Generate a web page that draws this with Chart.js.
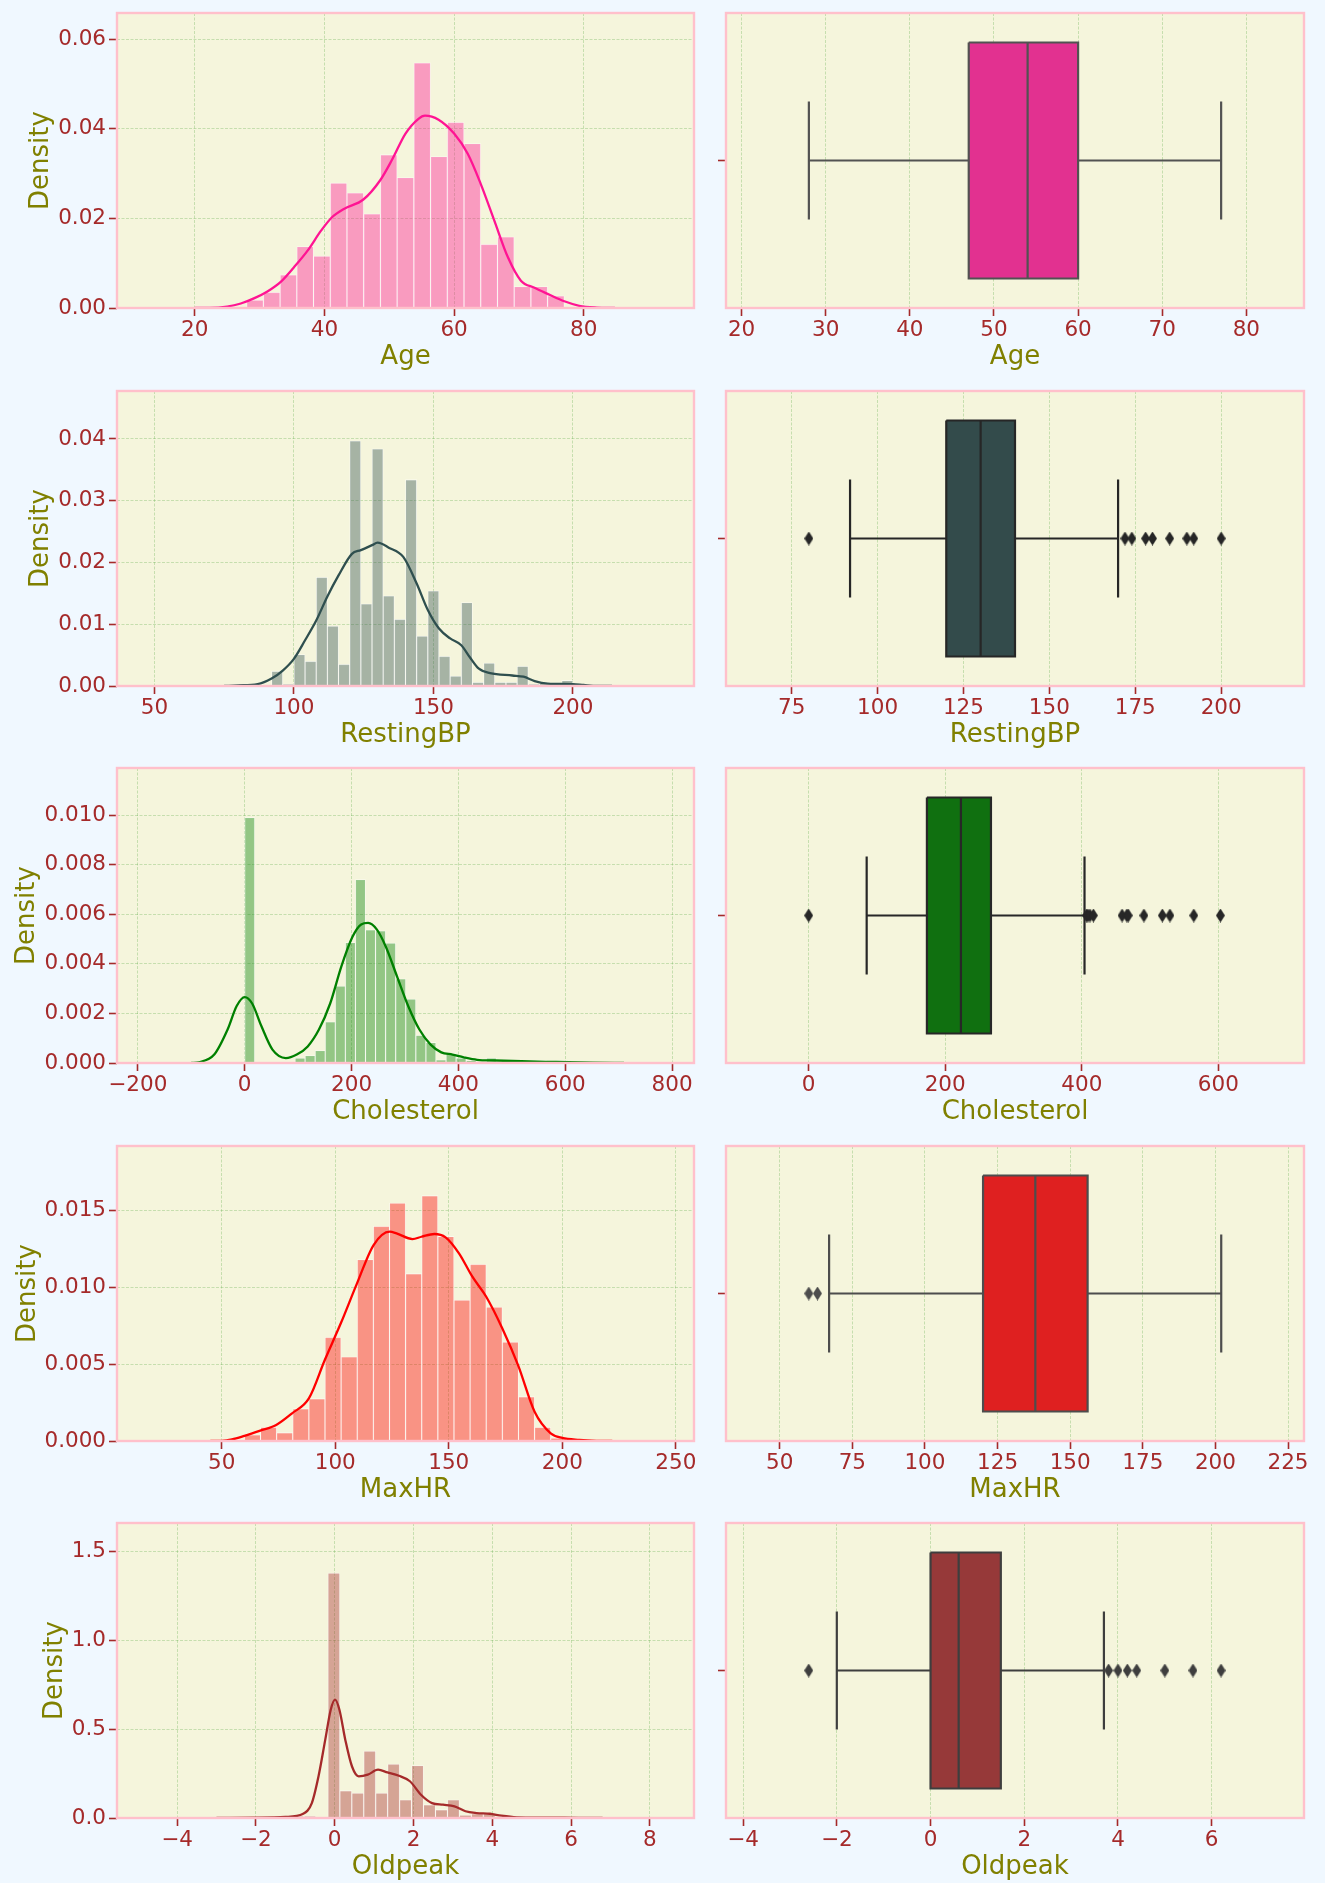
<!DOCTYPE html>
<html lang="en">
<head>
<meta charset="UTF-8">
<title>Heart data: distributions and box plots</title>
<script src="https://cdn.jsdelivr.net/npm/chart.js"></script>
<style>
    body{margin:0;padding:0;background:#F0F8FF;}
    #fig{position:relative;width:1325px;height:1883px;background:#F0F8FF;overflow:hidden;}
    .cell{position:absolute;}
    .cell canvas{display:block;}
</style>
</head>
<body>
<div id="fig"></div>
<script>
/* ==== data ==== */
// histograms: [first edge, last edge] + density of each equal-width bin
const ageBins = [28, 77];
const ageDensity = [0.0018,0.0035,0.0074,0.0137,0.0116,0.0279,0.0257,0.0210,0.0342,0.0291,
                    0.0547,0.0338,0.0414,0.0367,0.0142,0.0159,0.0048,0.0048,0.0027];
const ageKdeX = [20,22.3,25,27.1,29.2,31.2,33.3,35.3,37.4,39.5,41.2,43,46,48.6,50.4,52.5,54.5,55.5,
                 57.6,60,62.1,64.1,66.2,68.3,70.3,72.4,74.5,77,79.3,82,84.8];
const ageKdeY = [0,0,0.0003,0.001,0.0022,0.0037,0.0059,0.0091,0.0128,0.0173,0.0203,0.0221,0.0242,0.0285,
                 0.033,0.0389,0.0422,0.0429,0.042,0.0389,0.0344,0.0277,0.0195,0.0113,0.0061,0.0045,
                 0.0031,0.0015,0.0005,0.0001,0];

const bpBins = [80, 200];
const bpDensity = [0.0003,0,0,0.0024,0.0003,0.0051,0.004,0.0176,0.0097,0.0035,
                   0.0397,0.0133,0.0384,0.0146,0.0108,0.0334,0.0081,0.0154,0.0048,0.0016,
                   0.0135,0.0006,0.0037,0.0006,0.0006,0.0032,0.0003,0.0005,0,0.0009];
const bpKdeX = [75,80,87,92,96,100,104,108,112,116,120.8,124,128,130,134,139.2,144,148,152,156,160,
                163,166.3,170.3,178.3,182.3,186.3,191,200,203.8,208.6,214];
const bpKdeY = [0,0.0001,0.0003,0.0012,0.0025,0.0044,0.0074,0.0106,0.0145,0.0179,0.0214,0.022,0.0228,
                0.0232,0.0224,0.0209,0.0166,0.0123,0.0093,0.0077,0.0066,0.0047,0.0028,0.0021,0.0017,
                0.0015,0.0008,0.0004,0.0003,0.00016,0,0];

const cholBins = [0, 603];
const cholDensity = [0.0099,0,0,0,0,0.0002,0.0003,0.0005,0.00166,0.0031,
                     0.00486,0.0074,0.00537,0.00533,0.00484,0.0034,0.00258,0.00112,0.00083,0.00013,
                     0.00038,0.0002,0.0001,0,0.0002,0,0.0001,0.0001,0.0001,0.0001,0,0.0001];
const cholKdeX = [-100,-86,-57,-32,-15,0,14,31,52,77,97.5,118,139,160,181,202,218,231,247.5,264,285,
                  306,327,348,368,389,410,435,468,518,585,652,710];
const cholKdeY = [0,0.00003,0.00034,0.00135,0.0023,0.00266,0.0024,0.0015,0.00054,0.0002,0.00034,
                  0.00067,0.00135,0.0024,0.0039,0.0051,0.00559,0.00565,0.00538,0.0047,0.0035,0.0023,
                  0.00135,0.00074,0.00043,0.00034,0.00023,0.00013,0.0001,0.00007,0.00004,0.00001,0];

const hrBins = [60, 202];
const hrDensity = [0.0004,0.0009,0.00054,0.0021,0.00275,0.00674,0.00548,0.0118,0.01396,0.01547,
                   0.01088,0.01595,0.0133,0.00917,0.01149,0.00871,0.00644,0.00288,0.0009,0.0002];
const hrKdeX = [45,50,54.5,60,67,74,81,88.4,95.5,102.6,109.6,116.9,124,127,134,138,143.7,148.6,154.5,
                160.4,166.5,173.5,180.6,187.8,194.9,200,207.5,215,222];
const hrKdeY = [0,0.00001,0.0001,0.00033,0.00067,0.00104,0.0018,0.00277,0.0053,0.0077,0.01025,0.01274,
                0.01361,0.0135,0.01313,0.01328,0.01346,0.01324,0.0122,0.01068,0.00938,0.00735,0.0049,
                0.0019,0.0005,0.0002,0.00007,0.00001,0];

const opBins = [-2.6, 6.2];
const opDensity = [0.004,0.004,0,0.004,0.004,0.011,0.011,0.004,1.38,0.154,
                   0.141,0.377,0.141,0.304,0.103,0.295,0.075,0.047,0.103,0.017,
                   0.024,0.024,0.004,0.004,0,0.004,0,0.004,0.004];
const opKdeX = [-3,-2,-1.25,-0.8,-0.58,-0.41,-0.24,-0.1,0.01,0.12,0.27,0.44,0.61,0.84,1.1,1.34,1.63,
                1.91,2.19,2.47,2.75,3.04,3.32,3.6,3.94,4.23,4.62,5.3,6.2,6.8];
const opKdeY = [0,0.002,0.006,0.024,0.084,0.235,0.44,0.61,0.667,0.61,0.44,0.29,0.235,0.244,0.272,0.257,
                0.238,0.207,0.131,0.084,0.075,0.066,0.038,0.028,0.024,0.013,0.004,0.002,0.001,0];

// box plots: [lower whisker, q1, median, q3, upper whisker] + fliers
const ageBox = [28, 47, 54, 60, 77];
const ageOut = [];
const bpBox = [92, 120, 130, 140, 170];
const bpOut = [80, 172, 174, 178, 180, 185, 190, 192, 200];
const cholBox = [85, 173.2, 223, 267, 404];
const cholOut = [0, 407, 409, 412, 417, 459, 466, 468, 491, 518, 529, 564, 603];
const hrBox = [67, 120, 138, 156, 202];
const hrOut = [60, 63];
const opBox = [-2, 0, 0.6, 1.5, 3.7];
const opOut = [-2.6, 3.8, 4.0, 4.2, 4.4, 5.0, 5.6, 6.2];

// axis limits and ticks
const ageHistX = [8, 97],        ageHistYMax = 0.0658, ageBoxX = [18.15, 86.85];
const bpHistX = [36.6, 243.4],   bpHistYMax = 0.04776, bpBoxX = [55.9, 224.1];
const cholHistX = [-239, 841],   cholHistYMax = 0.0119, cholBoxX = [-121, 725.4];
const hrHistX = [3.9, 258],      hrHistYMax = 0.01918, hrBoxX = [31.5, 230.5];
const opHistX = [-5.525, 9.12],  opHistYMax = 1.6617, opBoxX = [-4.365, 7.97];

const ageHistXTicks = [20,40,60,80],            ageHistYTicks = [0,0.02,0.04,0.06];
const bpHistXTicks = [50,100,150,200],          bpHistYTicks = [0,0.01,0.02,0.03,0.04];
const cholHistXTicks = [-200,0,200,400,600,800],cholHistYTicks = [0,0.002,0.004,0.006,0.008,0.010];
const hrHistXTicks = [50,100,150,200,250],      hrHistYTicks = [0,0.005,0.010,0.015];
const opHistXTicks = [-4,-2,0,2,4,6,8],         opHistYTicks = [0,0.5,1.0,1.5];
const ageBoxTicks = [20,30,40,50,60,70,80];
const bpBoxTicks = [75,100,125,150,175,200];
const cholBoxTicks = [0,200,400,600];
const hrBoxTicks = [50,75,100,125,150,175,200,225];
const opBoxTicks = [-4,-2,0,2,4,6];

/* ==== look ==== */
const AX_BG = '#F5F5DC', SPINE = '#FFC0CB', TICK = '#A52A2A', LABEL = '#808000';
const GRID = 'rgba(90,170,70,0.3)';
Chart.defaults.font.family = "'DejaVu Sans', sans-serif";

// geometry (px)
const ROW_TOP = 13, ROW_STEP = 377.6, PLOT_H = 295, PAD_TOP = 18, XAXIS_H = 66;

const panels = [
    {name:'Age', color:'#FF1493', boxFill:'#E23190', boxLine:'#525252', yDec:2, densPad:26,
     bins:ageBins, dens:ageDensity, kx:ageKdeX, ky:ageKdeY, hx:ageHistX, hy:ageHistYMax,
     hxt:ageHistXTicks, hyt:ageHistYTicks, box:ageBox, out:ageOut, bx:ageBoxX, bxt:ageBoxTicks},
    {name:'RestingBP', color:'#2F4F4F', boxFill:'#334B4B', boxLine:'#262626', yDec:2, densPad:26,
     bins:bpBins, dens:bpDensity, kx:bpKdeX, ky:bpKdeY, hx:bpHistX, hy:bpHistYMax,
     hxt:bpHistXTicks, hyt:bpHistYTicks, box:bpBox, out:bpOut, bx:bpBoxX, bxt:bpBoxTicks},
    {name:'Cholesterol', color:'#008000', boxFill:'#107010', boxLine:'#272727', yDec:3, densPad:11.6,
     bins:cholBins, dens:cholDensity, kx:cholKdeX, ky:cholKdeY, hx:cholHistX, hy:cholHistYMax,
     hxt:cholHistXTicks, hyt:cholHistYTicks, box:cholBox, out:cholOut, bx:cholBoxX, bxt:cholBoxTicks},
    {name:'MaxHR', color:'#FF0000', boxFill:'#DF2020', boxLine:'#4D4D4D', yDec:3, densPad:12.3,
     bins:hrBins, dens:hrDensity, kx:hrKdeX, ky:hrKdeY, hx:hrHistX, hy:hrHistYMax,
     hxt:hrHistXTicks, hyt:hrHistYTicks, box:hrBox, out:hrOut, bx:hrBoxX, bxt:hrBoxTicks},
    {name:'Oldpeak', color:'#A52A2A', boxFill:'#963939', boxLine:'#3E3E3E', yDec:1, densPad:39.3,
     bins:opBins, dens:opDensity, kx:opKdeX, ky:opKdeY, hx:opHistX, hy:opHistYMax,
     hxt:opHistXTicks, hyt:opHistYTicks, box:opBox, out:opOut, bx:opBoxX, bxt:opBoxTicks}
];

/* ==== helpers ==== */
const fmt = (v, dec) => v.toFixed(dec).replace('-', '\u2212');
function alpha(hex, a){
    const n = parseInt(hex.slice(1), 16);
    return `rgba(${n>>16},${(n>>8)&255},${n&255},${a})`;
}

// beige axes background + pink spines
const axesFrame = {
    id:'axesFrame',
    beforeDraw(chart){
        const {ctx, chartArea:a} = chart;
        ctx.save(); ctx.fillStyle = AX_BG; ctx.fillRect(a.left, a.top, a.width, a.height); ctx.restore();
    },
    afterDraw(chart){
        const {ctx, chartArea:a} = chart;
        ctx.save(); ctx.strokeStyle = SPINE; ctx.lineWidth = 2.4;
        ctx.strokeRect(a.left, a.top, a.width, a.height); ctx.restore();
    }
};

function makeCanvas(left, top, width, height){
    const wrap = document.createElement('div');
    wrap.className = 'cell';
    wrap.style.cssText = `left:${left}px;top:${top}px;width:${width}px;height:${height}px;`;
    const c = document.createElement('canvas');
    c.width = width; c.height = height;
    c.style.width = width + 'px'; c.style.height = height + 'px';
    wrap.appendChild(c);
    document.getElementById('fig').appendChild(wrap);
    return c;
}

function xScale(lim, ticks, title){
    return {
        type:'linear', min:lim[0], max:lim[1], offset:false,
        afterBuildTicks: s => { s.ticks = ticks.map(v => ({value:v})); },
        afterFit: s => { s.height = XAXIS_H; },
        ticks:{color:TICK, font:{size:21.5}, padding:2, maxRotation:0, autoSkip:false,
               callback: v => fmt(v, 0)},
        grid:{color:GRID, lineWidth:1, tickColor:TICK, tickWidth:1.6, tickLength:8, offset:false},
        border:{display:false, dash:[3,1.5]},
        title:{display:true, text:title, color:LABEL, font:{size:26}, padding:{top:0, bottom:1.4}}
    };
}

// diamond flier marker (matplotlib 'd')
function diamond(color){
    const c = document.createElement('canvas');
    c.width = 9; c.height = 14;
    const g = c.getContext('2d');
    g.fillStyle = color;
    g.beginPath(); g.moveTo(4.5,0); g.lineTo(9,7); g.lineTo(4.5,14); g.lineTo(0,7); g.closePath(); g.fill();
    return c;
}

function seg(pts, color){
    return {type:'line', data:pts.map(([x,y]) => ({x,y})), borderColor:color, borderWidth:2.2,
            pointRadius:0, fill:false, tension:0, borderJoinStyle:'miter'};
}

/* ==== draw ==== */
panels.forEach((p, i) => {
    const plotTop = ROW_TOP + ROW_STEP * i;
    const top = plotTop - PAD_TOP;
    const height = PAD_TOP + PLOT_H + XAXIS_H;

    // ---- left: histogram + kde ----
    const n = p.dens.length, w = (p.bins[1] - p.bins[0]) / n;
    const bars = p.dens.map((d, k) => ({x: p.bins[0] + (k + 0.5) * w, y: d}));
    const kde = p.kx.map((x, k) => ({x, y: p.ky[k]}));

    new Chart(makeCanvas(0, top, 725, height), {
        type:'bar',
        data:{datasets:[
            {type:'line', data:kde, borderColor:p.color, borderWidth:2.3, pointRadius:0,
             cubicInterpolationMode:'monotone', fill:false, order:0},
            {type:'bar', data:bars, backgroundColor:alpha(p.color, 0.4),
             borderColor:'rgba(255,255,255,0.55)', borderWidth:0.8,
             barPercentage:1, categoryPercentage:1, order:1}
        ]},
        options:{
            responsive:false, animation:false,
            layout:{padding:{top:PAD_TOP, right:725 - 694, left:0, bottom:0}},
            plugins:{legend:{display:false}, tooltip:{enabled:false}},
            scales:{
                x: xScale(p.hx, p.hxt, p.name),
                y: {
                    type:'linear', min:0, max:p.hy,
                    afterBuildTicks: s => { s.ticks = p.hyt.map(v => ({value:v})); },
                    afterFit: s => { s.width = 117; },
                    ticks:{color:TICK, font:{size:21.5}, padding:3, callback: v => fmt(v, p.yDec)},
                    grid:{color:GRID, lineWidth:1, tickColor:TICK, tickWidth:1.6, tickLength:8},
                    border:{display:false, dash:[3,1.5]},
                    title:{display:true, text:'Density', color:LABEL, font:{size:26},
                           padding:{top:p.densPad, bottom:0}}
                }
            }
        },
        plugins:[axesFrame]
    });

    // ---- right: box plot ----
    const [lo, q1, med, q3, hi] = p.box;
    const datasets = [
        seg([[med,-0.4],[med,0.4]], p.boxLine),
        {type:'line', data:[[q1,-0.4],[q3,-0.4],[q3,0.4],[q1,0.4],[q1,-0.4]].map(([x,y]) => ({x,y})),
         borderColor:p.boxLine, borderWidth:2.2, backgroundColor:p.boxFill, fill:'shape',
         pointRadius:0, tension:0, borderJoinStyle:'miter'},
        seg([[lo,0],[q1,0]], p.boxLine),
        seg([[q3,0],[hi,0]], p.boxLine),
        seg([[lo,-0.2],[lo,0.2]], p.boxLine),
        seg([[hi,-0.2],[hi,0.2]], p.boxLine)
    ];
    if (p.out.length) {
        datasets.unshift({type:'scatter', data:p.out.map(x => ({x, y:0})),
                          pointStyle:diamond(p.boxLine), pointRadius:5});
    }

    new Chart(makeCanvas(700, top, 625, height), {
        type:'scatter',
        data:{datasets},
        options:{
            responsive:false, animation:false,
            layout:{padding:{top:PAD_TOP, right:625 - (1304 - 700), left:0, bottom:0}},
            plugins:{legend:{display:false}, tooltip:{enabled:false}},
            scales:{
                x: xScale(p.bx, p.bxt, p.name),
                y: {
                    type:'linear', min:-0.5, max:0.5, reverse:true,
                    afterBuildTicks: s => { s.ticks = [{value:0}]; },
                    afterFit: s => { s.width = 26; },
                    ticks:{callback: () => '', padding:0},
                    grid:{drawOnChartArea:false, tickColor:TICK, tickWidth:1.6, tickLength:8},
                    border:{display:false}
                }
            }
        },
        plugins:[axesFrame]
    });
});
</script>
</body>
</html>
